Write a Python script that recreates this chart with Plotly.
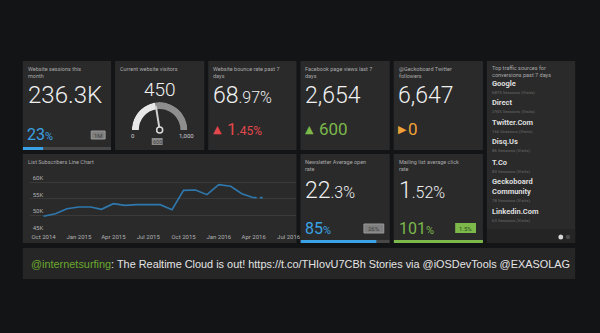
import plotly.graph_objects as go

# ---------------- data ----------------
sessions_month_k = 236.3
sessions_progress_pct = 23
sessions_period = "1M"

visitors_now = 450
gauge_min = 0
gauge_max = 1000
gauge_target = 600

bounce_rate_pct = 68.97
bounce_change_pct = 1.45

fb_page_views = 2654
fb_change = 600

twitter_followers = 6647
twitter_change = 0

open_rate_pct = 22.3
open_progress_pct = 85
open_target_pct = 26

click_rate_pct = 1.52
click_progress_pct = 101
click_target_pct = 1.5

traffic_sources = ["Google", "Direct", "Twitter.Com", "Disq.Us", "T.Co",
                   "Geckoboard<br>Community", "Linkedin.Com"]
traffic_sessions = [6875, 2905, 166, 86, 83, 78, 63]

subscriber_months = ["2014-10-01", "2014-11-01", "2014-12-01", "2015-01-01",
                     "2015-02-01", "2015-03-01", "2015-04-01", "2015-05-01",
                     "2015-06-01", "2015-07-01", "2015-08-01", "2015-09-01",
                     "2015-10-01", "2015-11-01", "2015-12-01", "2016-01-01",
                     "2016-02-01", "2016-03-01", "2016-04-01"]
subscriber_values = [49700, 50500, 52000, 52500, 52500, 51800, 53500, 53000,
                     53200, 53200, 53200, 51700, 57500, 57600, 56200, 59200,
                     58700, 56500, 55300]
projection_months = ["2016-04-01", "2016-05-01"]
projection_values = [55300, 55300]
subscriber_tick_dates = ["2014-10-01", "2015-01-01", "2015-04-01", "2015-07-01",
                         "2015-10-01", "2016-01-01", "2016-04-01", "2016-07-01"]
subscriber_tick_vals = [45000, 50000, 55000, 60000]
subscriber_tick_text = ["45K", "50K", "55K", "60K"]

ticker_handle = "@internetsurfing"
ticker_text = ": The Realtime Cloud is out! https://t.co/THIovU7CBh Stories via @iOSDevTools @EXASOLAG"

# ---------------- style ----------------
W, H = 600, 333
BG = "#131416"
CARD = "#2a2a2b"
TITLE = "#a8a8a8"
WHITE = "#f0f0f0"
BLUE = "#3aa2e4"
RED = "#e2474b"
GREEN = "#7cb84a"
ORANGE = "#f0a236"
TRACK = "#474748"
LINE = "#2f78ad"
FONT = "Roboto"


def px(x):
    return x / W


def py(y):
    return 1 - y / H


annotations = []
shapes = []


def txt(x, y, text, size, color, weight=None, xanchor="left", family=FONT, **kw):
    font = dict(size=size, color=color, family=family)
    if weight:
        font["weight"] = weight
    annotations.append(dict(x=px(x), y=py(y), xref="paper", yref="paper", text=text,
                            showarrow=False, xanchor=xanchor, yanchor="middle",
                            font=font, borderpad=0, borderwidth=0, **kw))


def rect(x0, y0, x1, y1, fill, line=None):
    shapes.append(dict(type="rect", xref="paper", yref="paper", x0=px(x0), x1=px(x1),
                       y0=py(y1), y1=py(y0), fillcolor=fill,
                       line=dict(width=1 if line else 0, color=line or fill), layer="below"))


def split(v, decimals):
    s = f"{v:.{decimals}f}"
    a, b = s.split(".") if "." in s else (s, "")
    return a, ("." + b if b else "")


# cards
cards = [(23, 61, 112, 150), (116, 61, 206, 150), (210, 61, 299, 150), (303, 61, 393, 150),
         (397, 61, 487, 150), (491, 61, 580, 243), (23, 154, 299, 243), (303, 154, 393, 243),
         (397, 154, 487, 243)]
for c in cards:
    rect(*c, CARD)
rect(491, 229, 580, 243, "#242425")
rect(23, 248, 580, 279, "#262627")

# card titles
def title(x, y, lines):
    for i, l in enumerate(lines):
        txt(x, y + i * 6.6, l, 5.5, TITLE)

title(28, 69, ["Website sessions this", "month"])
title(121, 69, ["Current website visitors"])
title(215, 69, ["Website bounce rate past 7", "days"])
title(308, 69, ["Facebook page views last 7", "days"])
title(402, 69, ["@Geckoboard Twitter", "followers"])
title(496, 68, ["Top traffic sources for", "conversions past 7 days"])
title(28, 162, ["List Subscribers Line Chart"])
title(308, 162, ["Newsletter Average open", "rate"])
title(402, 162, ["Mailing list average click", "rate"])

# big numbers
txt(28, 95, f"{sessions_month_k}K", 24, WHITE, 300)
txt(161, 89, f"{visitors_now}", 19, WHITE, 300, xanchor="center")
a, b = split(bounce_rate_pct, 2)
txt(215, 95, f'{a}<span style="font-size:16px">{b}%</span>', 23, WHITE, 300)
txt(308, 95, f"{fb_page_views:,}", 23, WHITE, 300)
txt(401, 95, f"{twitter_followers:,}", 23, WHITE, 300)
a, b = split(open_rate_pct, 1)
txt(308, 190, f'{a}<span style="font-size:16px">{b}%</span>', 23, WHITE, 300)
a, b = split(click_rate_pct, 2)
txt(402, 190, f'{a}<span style="font-size:16px">{b}%</span>', 23, WHITE, 300)

# secondary values
txt(27, 134, f'{sessions_progress_pct}<span style="font-size:11px">%</span>', 16, BLUE)
txt(215, 129, "▲", 11, RED, family="DejaVu Sans")
a, b = split(bounce_change_pct, 2)
txt(229, 129, f'{a}<span style="font-size:12px">{b}%</span>', 17, RED)
txt(308, 129, "▲", 11, GREEN, family="DejaVu Sans")
txt(322, 129, f"{fb_change}", 17, GREEN)
txt(401, 129, "▶", 11, ORANGE, family="DejaVu Sans")
txt(411, 129, f"{twitter_change}", 17, ORANGE)
txt(308, 228, f'{open_progress_pct}<span style="font-size:11px">%</span>', 16, BLUE)
txt(402, 228, f'{click_progress_pct}<span style="font-size:11px">%</span>', 16, GREEN)

# small value boxes
rect(92, 131, 106, 139, "#7f7f7f", "#9a9a9a")
txt(99, 135, sessions_period, 6, "#3e3e3e", xanchor="center")
rect(367, 224, 387, 233, "#7f7f7f", "#9a9a9a")
txt(377, 228.5, f"{open_target_pct}%", 6, "#3e3e3e", xanchor="center")
rect(459, 223, 480, 233, GREEN)
txt(469.5, 228, f"{click_target_pct}%", 6, "#2b4a1a", xanchor="center")
rect(153, 138, 164, 145, "#8a8a8a")
txt(158.5, 141.5, f"{gauge_target}", 5.5, "#3e3e3e", xanchor="center")
txt(134, 135, f"{gauge_min}", 6, "#cfcfcf", xanchor="center")
txt(188, 135, f"{gauge_max:,}", 6, "#cfcfcf", xanchor="center")

# traffic list
ys = [83.3, 102.7, 122.3, 141.7, 162.3, 181.7, 211]
for name, n, y in zip(traffic_sources, traffic_sessions, ys):
    lines = name.split("<br>")
    for i, l in enumerate(lines):
        txt(496, y + i * 9.6, l, 7.5, "#dedede", 700)
    txt(496, y + 9 + (len(lines) - 1) * 9.6, f"{n} Sessions (Visits)", 4.3, "#6a6a6a")
shapes.append(dict(type="circle", xref="paper", yref="paper", x0=px(563), x1=px(568),
                   y0=py(239.5), y1=py(234.5), fillcolor="#d8d8d8", line_width=0))
shapes.append(dict(type="circle", xref="paper", yref="paper", x0=px(570.5), x1=px(575),
                   y0=py(239.3), y1=py(234.8), fillcolor="#4a4a4b", line_width=0))

# ticker
annotations.append(dict(x=px(30), y=py(264), xref="paper", yref="paper",
                        text=f'<span style="color:#6aa92c">{ticker_handle}</span>{ticker_text}',
                        showarrow=False, xanchor="left", yanchor="middle", align="left",
                        width=543, borderpad=0,
                        font=dict(size=10.9, color="#e4e4e4", family="Liberation Sans")))

fig = go.Figure()

# line chart
fig.add_trace(go.Scatter(x=subscriber_months, y=subscriber_values, mode="lines",
                         line=dict(color=LINE, width=1.6), hoverinfo="skip", showlegend=False))
fig.add_trace(go.Scatter(x=projection_months, y=projection_values, mode="lines",
                         line=dict(color=LINE, width=1.6, dash="dot"), hoverinfo="skip",
                         showlegend=False))

# progress bars
def progress(value, color, ax):
    fig.add_trace(go.Bar(x=[100], y=[0], orientation="h", width=1, marker_color=TRACK,
                         marker_line_width=0, xaxis="x" + ax, yaxis="y" + ax,
                         hoverinfo="skip", showlegend=False))
    fig.add_trace(go.Bar(x=[min(value, 100)], y=[0], orientation="h", width=1,
                         marker_color=color, marker_line_width=0, xaxis="x" + ax,
                         yaxis="y" + ax, hoverinfo="skip", showlegend=False))

progress(sessions_progress_pct, BLUE, "2")
progress(open_progress_pct, BLUE, "3")
progress(click_progress_pct, GREEN, "4")

# gauge
theta_val = (visitors_now - gauge_min) / (gauge_max - gauge_min) * 180
fig.add_trace(go.Barpolar(r=[0.25], base=[0.75], theta=[theta_val / 2], width=[theta_val],
                          marker_color="#e8e8e8", marker_line_width=0, subplot="polar",
                          hoverinfo="skip", showlegend=False))
fig.add_trace(go.Barpolar(r=[0.25], base=[0.75], theta=[(theta_val + 180) / 2],
                          width=[180 - theta_val], marker_color="#8e8e8e",
                          marker_line_width=0, subplot="polar", hoverinfo="skip",
                          showlegend=False))
fig.add_trace(go.Scatterpolar(r=[0, 0.86], theta=[theta_val, theta_val], mode="lines",
                              line=dict(color="#d0d0d0", width=2), subplot="polar",
                              hoverinfo="skip", showlegend=False))
fig.add_trace(go.Scatterpolar(r=[0], theta=[0], mode="markers",
                              marker=dict(size=6, color=CARD, line=dict(color="#dcdcdc", width=1.5)),
                              subplot="polar", hoverinfo="skip", showlegend=False))

hidden = dict(visible=False, fixedrange=True)
fig.update_layout(
    width=W, height=H, margin=dict(l=0, r=0, t=0, b=0),
    paper_bgcolor=BG, plot_bgcolor="rgba(0,0,0,0)",
    barmode="overlay", showlegend=False,
    font=dict(family=FONT, color=TITLE),
    xaxis=dict(domain=[px(30), px(298)], range=["2014-08-26", "2016-07-19"], type="date",
               tickvals=subscriber_tick_dates, tickformat="%b %Y", showgrid=False,
               zeroline=False, showline=False, ticks="", tickfont=dict(size=6, color="#b0b0b0")),
    yaxis=dict(domain=[py(232), py(172)], range=[45000, 63000], tickvals=subscriber_tick_vals,
               ticktext=subscriber_tick_text, ticklabelposition="inside top",
               gridcolor="#3a3a3b", gridwidth=1, zeroline=False, showline=False, ticks="",
               tickfont=dict(size=6, color="#b0b0b0")),
    xaxis2=dict(domain=[px(23), px(112)], range=[0, 100], **hidden),
    yaxis2=dict(domain=[py(150), py(147)], range=[-0.5, 0.5], **hidden),
    xaxis3=dict(domain=[px(303), px(393)], range=[0, 100], **hidden),
    yaxis3=dict(domain=[py(243), py(240)], range=[-0.5, 0.5], **hidden),
    xaxis4=dict(domain=[px(397), px(487)], range=[0, 100], **hidden),
    yaxis4=dict(domain=[py(243), py(240)], range=[-0.5, 0.5], **hidden),
    polar=dict(domain=dict(x=[px(133), px(189)], y=[py(130), py(102)]), sector=[0, 180],
               bgcolor="rgba(0,0,0,0)", hole=0,
               radialaxis=dict(range=[0, 1], visible=False),
               angularaxis=dict(visible=False, rotation=180, direction="clockwise")),
    shapes=shapes, annotations=annotations,
)

fig.write_html("out.html")
